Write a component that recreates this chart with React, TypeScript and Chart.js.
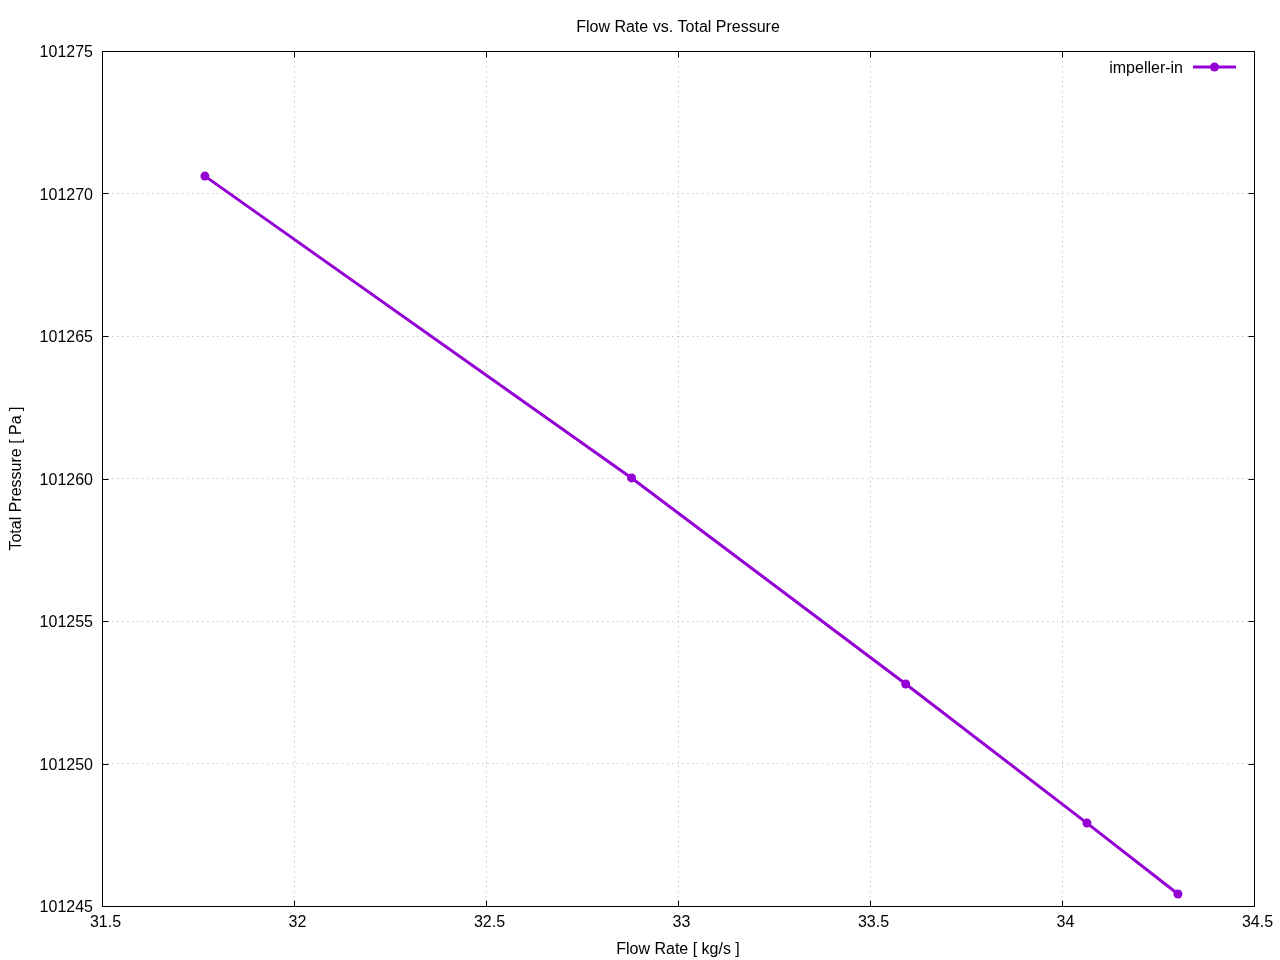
import { useEffect, useRef } from "react";
import { Chart, registerables } from "chart.js";

Chart.register(...registerables);

const chartTitle = "Flow Rate vs. Total Pressure";
const xAxisTitle = "Flow Rate [ kg/s ]";
const yAxisTitle = "Total Pressure [ Pa ]";
const seriesLabel = "impeller-in";
const flowRate = [31.768, 32.879, 33.593, 34.065, 34.302];
const totalPressure = [101270.61, 101260.02, 101252.79, 101247.91, 101245.42];
const xTicks = [31.5, 32, 32.5, 33, 33.5, 34, 34.5];
const yTicks = [101245, 101250, 101255, 101260, 101265, 101270, 101275];

const LINE_COLOR = "#9400D3";
const FONT = '"Liberation Sans", Arial, sans-serif';

const decor = {
  id: "decor",
  afterDraw(chart: any) {
    const { ctx, chartArea: a, scales } = chart;
    ctx.save();
    // frame
    ctx.strokeStyle = "#000";
    ctx.lineWidth = 1;
    ctx.setLineDash([]);
    const L = Math.round(a.left) + 0.5;
    const R = Math.round(a.right) + 0.5;
    const T = Math.round(a.top) + 0.5;
    const B = Math.round(a.bottom) + 0.5;
    ctx.strokeRect(L, T, R - L, B - T);
    // inward ticks
    const tl = 6;
    ctx.beginPath();
    xTicks.forEach((v) => {
      const px = Math.round(scales.x.getPixelForValue(v)) + 0.5;
      ctx.moveTo(px, B);
      ctx.lineTo(px, B - tl);
      ctx.moveTo(px, T);
      ctx.lineTo(px, T + tl);
    });
    yTicks.forEach((v) => {
      const py = Math.round(scales.y.getPixelForValue(v)) + 0.5;
      ctx.moveTo(L, py);
      ctx.lineTo(L + tl, py);
      ctx.moveTo(R, py);
      ctx.lineTo(R - tl, py);
    });
    ctx.stroke();
    // titles
    ctx.fillStyle = "#000";
    ctx.font = `16px ${FONT}`;
    ctx.textAlign = "center";
    ctx.textBaseline = "middle";
    const cx = (a.left + a.right) / 2;
    ctx.fillText(chartTitle, cx, 28);
    ctx.fillText(xAxisTitle, cx, 950);
    ctx.save();
    ctx.translate(17, (a.top + a.bottom) / 2);
    ctx.rotate(-Math.PI / 2);
    ctx.fillText(yAxisTitle, 0, 0);
    ctx.restore();
    // legend
    const ds = chart.data.datasets[0];
    const ly = 67;
    ctx.textAlign = "right";
    ctx.fillText(ds.label, 1183, ly + 2);
    ctx.strokeStyle = LINE_COLOR;
    ctx.lineWidth = 3;
    ctx.beginPath();
    ctx.moveTo(1193, ly);
    ctx.lineTo(1236, ly);
    ctx.stroke();
    ctx.fillStyle = LINE_COLOR;
    ctx.beginPath();
    ctx.arc(1214.5, ly, 4.5, 0, Math.PI * 2);
    ctx.fill();
    ctx.restore();
  },
};

export default function App() {
  const ref = useRef<HTMLCanvasElement | null>(null);
  useEffect(() => {
    if (!ref.current) return;
    const chart = new Chart(ref.current, {
      type: "line",
      data: {
        datasets: [
          {
            label: seriesLabel,
            data: flowRate.map((x, i) => ({ x, y: totalPressure[i] })),
            borderColor: LINE_COLOR,
            backgroundColor: LINE_COLOR,
            borderWidth: 3,
            pointRadius: 4.5,
            pointHoverRadius: 4.5,
            pointBorderWidth: 0,
            tension: 0,
            fill: false,
          },
        ],
      },
      options: {
        responsive: false,
        animation: false,
        layout: { padding: { top: 51, right: 26, left: 0, bottom: 0 } },
        plugins: {
          legend: { display: false },
          title: { display: false },
          tooltip: { enabled: false },
        },
        scales: {
          x: {
            type: "linear",
            min: 31.5,
            max: 34.5,
            afterBuildTicks: (s: any) => {
              s.ticks = xTicks.map((value) => ({ value }));
            },
            afterFit: (s: any) => {
              s.height = 54;
            },
            ticks: {
              color: "#000",
              font: { family: FONT, size: 16 },
              padding: 7,
              labelOffset: 3.5,
              maxRotation: 0,
              autoSkip: false,
              callback: (v: any) => String(Number(Number(v).toFixed(3))),
            },
            grid: {
              color: "rgba(150,150,150,0.5)",
              lineWidth: 1,
              drawTicks: false,
            },
            border: { display: false, dash: [1.5, 3.5] },
          },
          y: {
            type: "linear",
            min: 101245,
            max: 101275,
            afterBuildTicks: (s: any) => {
              s.ticks = yTicks.map((value) => ({ value }));
            },
            afterFit: (s: any) => {
              s.width = 102;
            },
            ticks: {
              color: "#000",
              font: { family: FONT, size: 16 },
              padding: 9,
              labelOffset: 2,
              autoSkip: false,
              callback: (v: any) => String(Math.round(Number(v))),
            },
            grid: {
              color: "rgba(150,150,150,0.5)",
              lineWidth: 1,
              drawTicks: false,
            },
            border: { display: false, dash: [1.5, 3.5] },
          },
        },
      },
      plugins: [decor],
    });
    return () => chart.destroy();
  }, []);
  return (
    <div style={{ position: "absolute", left: 0, top: 0, width: 1280, height: 960, background: "#fff" }}>
      <canvas ref={ref} width={1280} height={960} style={{ display: "block" }} />
    </div>
  );
}
